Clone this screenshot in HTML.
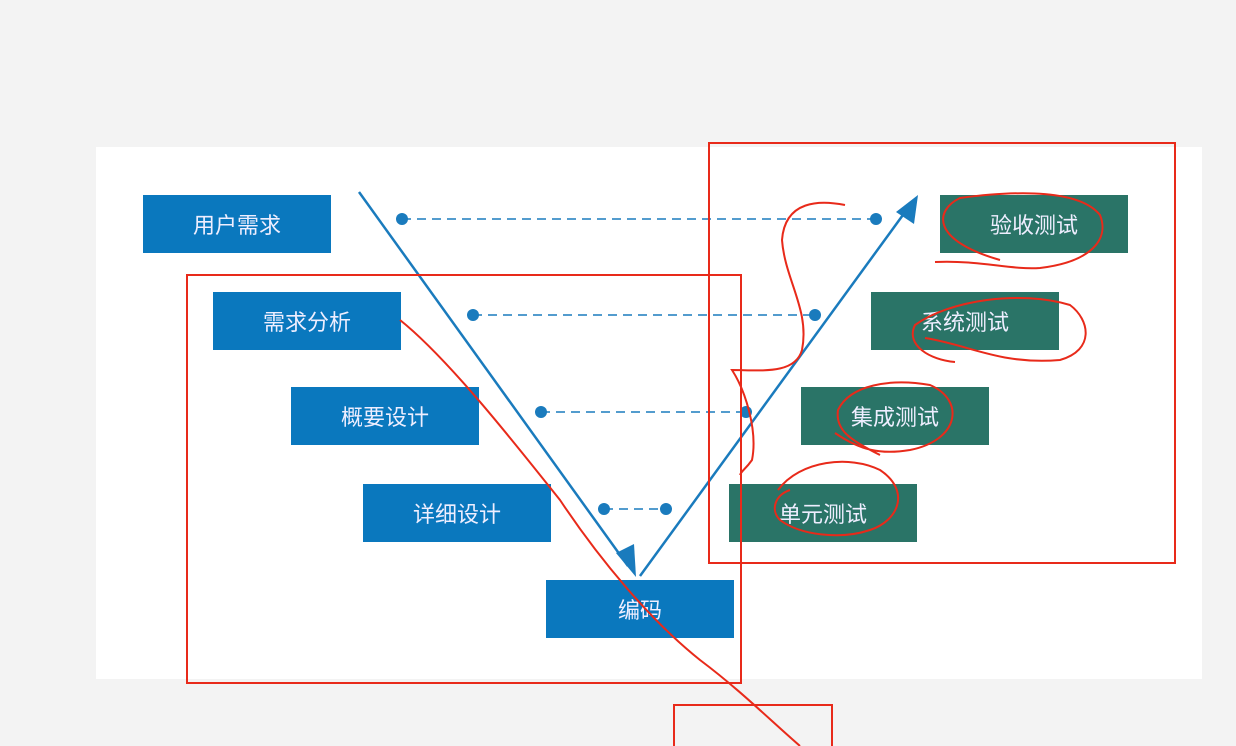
<!DOCTYPE html>
<html><head><meta charset="utf-8"><style>
html,body{margin:0;padding:0;width:1236px;height:746px;overflow:hidden;background:#f3f3f3;}
.panel{position:absolute;left:96px;top:147px;width:1106px;height:532px;background:#fff;}
.b{position:absolute;width:188px;height:58px;color:#eef;font:22px "Liberation Sans","Noto Sans CJK SC",sans-serif;display:flex;align-items:center;justify-content:center;}
.bl{background:#0a78be;}
.gr{background:#2a7467;}
svg{position:absolute;left:0;top:0;}
</style></head><body>
<div class="panel"></div>
<div class="b bl" style="left:143px;top:195px">用户需求</div>
<div class="b bl" style="left:213px;top:292px">需求分析</div>
<div class="b bl" style="left:291px;top:387px">概要设计</div>
<div class="b bl" style="left:363px;top:484px">详细设计</div>
<div class="b bl" style="left:546px;top:580px">编码</div>
<div class="b gr" style="left:940px;top:195px">验收测试</div>
<div class="b gr" style="left:871px;top:292px">系统测试</div>
<div class="b gr" style="left:801px;top:387px">集成测试</div>
<div class="b gr" style="left:729px;top:484px">单元测试</div>
<svg width="1236" height="746">
<g stroke="#1a7bbd" stroke-width="2.5" fill="none">
<line x1="359" y1="192" x2="628" y2="566"/>
<line x1="640" y1="576" x2="908" y2="208"/>
</g>
<polygon points="636,577 616,553 634,544" fill="#1a7bbd"/>
<polygon points="918,195 896,212 914,224" fill="#1a7bbd"/>
<g stroke="#1a7bbd" stroke-width="1.5" stroke-dasharray="9,6">
<line x1="402" y1="219" x2="876" y2="219"/>
<line x1="473" y1="315" x2="815" y2="315"/>
<line x1="541" y1="412" x2="746" y2="412"/>
<line x1="604" y1="509" x2="666" y2="509"/>
</g>
<g fill="#1a7bbd">
<circle cx="402" cy="219" r="6"/><circle cx="876" cy="219" r="6"/>
<circle cx="473" cy="315" r="6"/><circle cx="815" cy="315" r="6"/>
<circle cx="541" cy="412" r="6"/><circle cx="746" cy="412" r="6"/>
<circle cx="604" cy="509" r="6"/><circle cx="666" cy="509" r="6"/>
</g>
<g stroke="#e82a1a" stroke-width="2" fill="none">
<rect x="187" y="275" width="554" height="408"/>
<rect x="709" y="143" width="466" height="420"/>
<rect x="674" y="705" width="158" height="60"/>
<path d="M400 320 C450 360 520 450 560 500 C600 560 650 620 700 660 C740 690 770 720 800 746"/>
<path d="M845 205 C820 200 785 200 782 240 C785 280 810 310 802 350 C795 375 760 370 732 370 C745 390 758 430 752 460 C745 470 742 470 740 475"/>
<path d="M935 262 C980 260 1010 270 1040 268 C1090 262 1110 240 1100 215 C1080 190 1020 190 960 198 C935 210 930 240 1000 260"/>
<path d="M925 338 C970 345 1000 365 1060 360 C1095 350 1090 320 1070 305 C1020 290 950 300 915 325 C905 345 930 360 955 362"/>
<path d="M835 433 C860 450 880 455 910 450 C960 440 965 400 930 385 C890 378 850 385 838 410 C835 430 850 440 880 455"/>
<path d="M778 490 C800 460 850 455 880 470 C910 490 900 520 870 530 C840 540 800 535 780 520 C770 510 775 495 790 490"/>
</g>
</svg>
</body></html>
